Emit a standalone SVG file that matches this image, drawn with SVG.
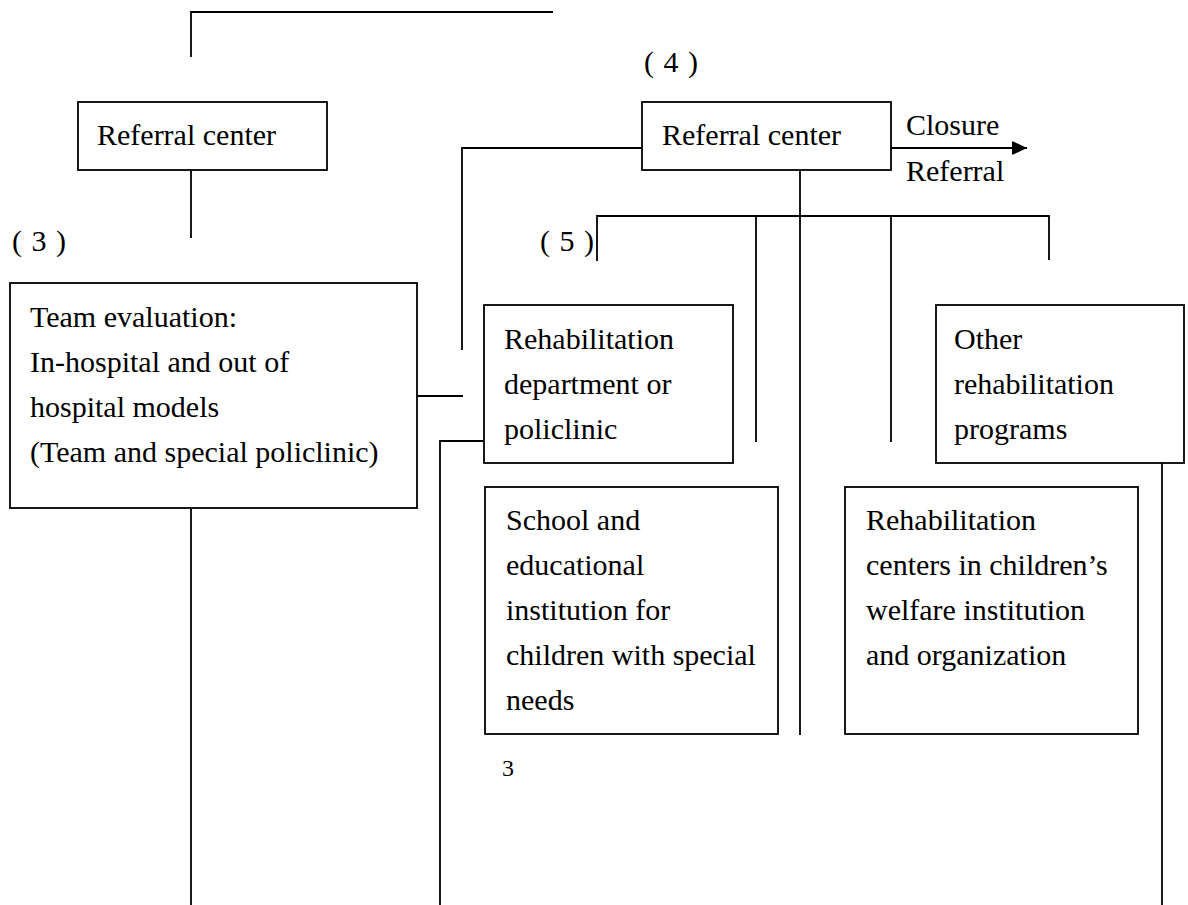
<svg xmlns="http://www.w3.org/2000/svg" width="1188" height="905" viewBox="0 0 1188 905">
<style>
.box{fill:#fff;stroke:#000;stroke-width:1.8}
.ln{fill:none;stroke:#000;stroke-width:1.8}
text{font-family:"Liberation Serif","Times New Roman",serif;font-size:30px;fill:#000}
.pg{font-size:24px}
</style>
<defs>
<marker id="arr" markerWidth="16" markerHeight="14" refX="15" refY="7" orient="auto" markerUnits="userSpaceOnUse"><path d="M0,0 L15,7 L0,14 Z" fill="#000"/></marker>
</defs>
<g id="connectors">
<polyline class="ln" points="191,57 191,12 553,12"/>
<line class="ln" x1="191" y1="170" x2="191" y2="238"/>
<polyline class="ln" points="642,148 462,148 462,350"/>
<line class="ln" x1="417" y1="396" x2="463" y2="396"/>
<polyline class="ln" points="484,441 440,441 440,905"/>
<line class="ln" x1="191" y1="508" x2="191" y2="905"/>
<line class="ln" x1="1162" y1="463" x2="1162" y2="905"/>
<line class="ln" x1="891" y1="148" x2="1027" y2="148" marker-end="url(#arr)"/>
<line class="ln" x1="800" y1="170" x2="800" y2="735"/>
<polyline class="ln" points="597,261 597,216 1049,216 1049,260"/>
<line class="ln" x1="756" y1="216" x2="756" y2="442"/>
<line class="ln" x1="891" y1="216" x2="891" y2="442"/>
</g>
<g id="labels">
<text x="644" y="72" xml:space="preserve" letter-spacing="1">( 4 )</text>
<text x="12" y="251" xml:space="preserve" letter-spacing="1">( 3 )</text>
<text x="540" y="251" xml:space="preserve" letter-spacing="1">( 5 )</text>
<text x="906" y="135">Closure</text>
<text x="906" y="181">Referral</text>
<text class="pg" x="502" y="776">3</text>
</g>
<g id="referral-left">
<rect class="box" x="78" y="102" width="249" height="68"/>
<text x="97" y="145">Referral center</text>
</g>
<g id="referral-right">
<rect class="box" x="642" y="102" width="249" height="68"/>
<text x="662" y="145">Referral center</text>
</g>
<g id="team-evaluation">
<rect class="box" x="10" y="283" width="407" height="225"/>
<text x="30" y="327">Team evaluation:</text>
<text x="30" y="372">In-hospital and out of</text>
<text x="30" y="417">hospital models</text>
<text x="30" y="462">(Team and special policlinic)</text>
</g>
<g id="rehab-department">
<rect class="box" x="484" y="305" width="249" height="158"/>
<text x="504" y="349">Rehabilitation</text>
<text x="504" y="394">department or</text>
<text x="504" y="439">policlinic</text>
</g>
<g id="other-programs">
<rect class="box" x="936" y="305" width="248" height="158"/>
<text x="954" y="349">Other</text>
<text x="954" y="394">rehabilitation</text>
<text x="954" y="439">programs</text>
</g>
<g id="school">
<rect class="box" x="485" y="487" width="293" height="247"/>
<text x="506" y="530">School and</text>
<text x="506" y="575">educational</text>
<text x="506" y="620">institution for</text>
<text x="506" y="665">children with special</text>
<text x="506" y="710">needs</text>
</g>
<g id="rehab-centers">
<rect class="box" x="845" y="487" width="293" height="247"/>
<text x="866" y="530">Rehabilitation</text>
<text x="866" y="575">centers in children’s</text>
<text x="866" y="620">welfare institution</text>
<text x="866" y="665">and organization</text>
</g>
</svg>
